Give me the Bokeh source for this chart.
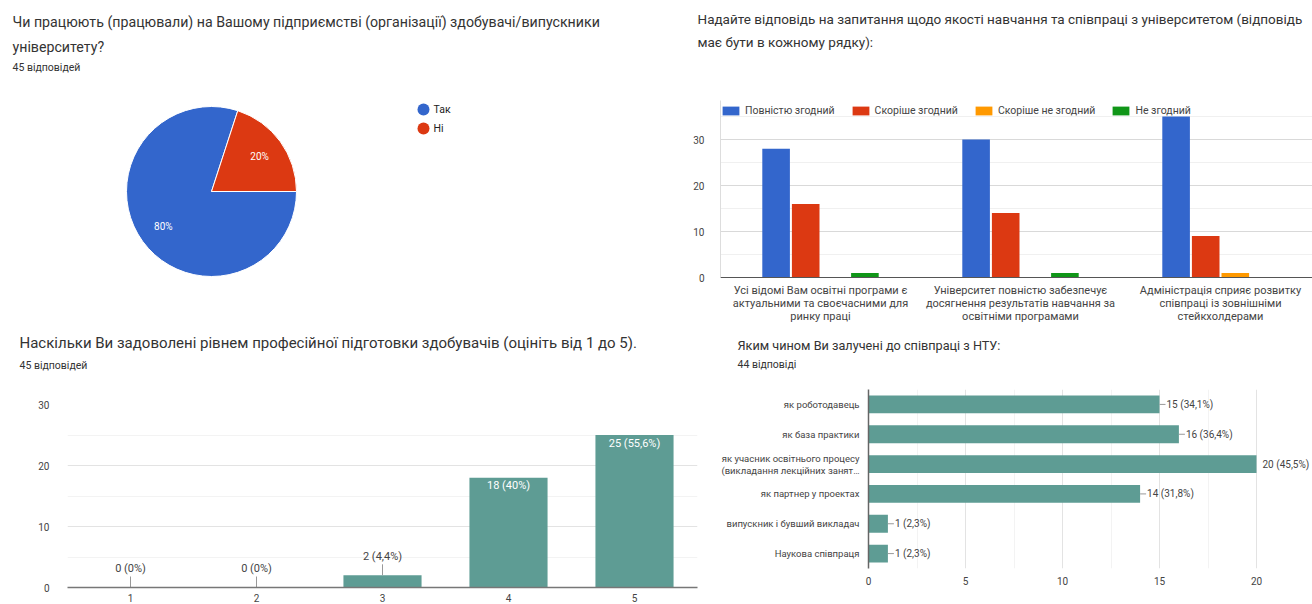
import numpy as np
from bokeh.plotting import figure
from bokeh.layouts import column, row
from bokeh.models import Range1d, FixedTicker, Legend, LegendItem
from bokeh.core.properties import value
from bokeh.embed import file_html
from bokeh.resources import INLINE

FONT = "Roboto"
INK = "#333333"
AXIS_INK = "#444444"
TEAL = "#5e9c94"

# ---------------- data: panel 1 (pie) ----------------
q1_title = ["Чи працюють (працювали) на Вашому підприємстві (організації) здобувачі/випускники",
            "університету?"]
q1_sub = "45 відповідей"
q1_labels = ["Так", "Ні"]
q1_values = [80, 20]
q1_colors = ["#3366cc", "#dc3912"]

# ---------------- data: panel 2 (grouped columns) ----------------
q2_title = ["Надайте відповідь на запитання щодо якості навчання та співпраці з університетом (відповідь",
            "має бути в кожному рядку):"]
q2_categories = ["Усі відомі Вам освітні програми є\nактуальними та своєчасними для\nринку праці",
                 "Університет повністю забезпечує\nдосягнення результатів навчання за\nосвітніми програмами",
                 "Адміністрація сприяє розвитку\nспівпраці із зовнішніми\nстейкхолдерами"]
q2_series = ["Повністю згодний", "Скоріше згодний", "Скоріше не згодний", "Не згодний"]
q2_full = [28, 30, 35]
q2_rather = [16, 14, 9]
q2_rather_not = [0, 0, 1]
q2_not = [1, 1, 0]
q2_colors = ["#3366cc", "#dc3912", "#ff9900", "#109618"]
q2_ticks = [0, 10, 20, 30]
q2_minor = [5, 15, 25, 35]

# ---------------- data: panel 3 (rating columns) ----------------
q3_title = "Наскільки Ви задоволені рівнем професійної підготовки здобувачів (оцініть від 1 до 5)."
q3_sub = "45 відповідей"
q3_scores = [1, 2, 3, 4, 5]
q3_counts = [0, 0, 2, 18, 25]
q3_labels = ["0 (0%)", "0 (0%)", "2 (4,4%)", "18 (40%)", "25 (55,6%)"]
q3_ticks = [0, 10, 20, 30]
q3_minor = [5, 15, 25]

# ---------------- data: panel 4 (horizontal bars) ----------------
q4_title = "Яким чином Ви залучені до співпраці з НТУ:"
q4_sub = "44 відповіді"
q4_categories = ["як роботодавець", "як база практики",
                 "як учасник освітнього процесу\n(викладання лекційних занят…",
                 "як партнер у проектах", "випускник і бувший викладач", "Наукова співпраця"]
q4_counts = [15, 16, 20, 14, 1, 1]
q4_labels = ["15 (34,1%)", "16 (36,4%)", "20 (45,5%)", "14 (31,8%)", "1 (2,3%)", "1 (2,3%)"]
q4_ticks = [0, 5, 10, 15, 20]
q4_minor = [2.5, 7.5, 12.5, 17.5]


def canvas(w, h):
    p = figure(width=w, height=h, x_range=Range1d(0, w), y_range=Range1d(0, h),
               x_axis_location=None, y_axis_location=None, min_border=0,
               output_backend="svg", toolbar_location=None)
    p.grid.grid_line_color = None
    p.outline_line_color = None
    return p


def base_fig(w, h, xr, yr, left, right, top, bottom):
    p = figure(width=w, height=h, x_range=xr, y_range=yr,
               min_border_left=left, min_border_right=right,
               min_border_top=top, min_border_bottom=bottom,
               output_backend="svg", toolbar_location=None)
    p.outline_line_color = None
    return p


def txt(p, x, y, s, size, color=INK, align="left", baseline="middle"):
    p.text(x=[x], y=[y], text=[s], text_font=value(FONT), text_font_size=f"{size}px",
           text_color=color, text_align=align, text_baseline=baseline)


def style_axis(ax, size="10px"):
    ax.major_tick_line_color = None
    ax.minor_tick_line_color = None
    ax.major_label_text_font = FONT
    ax.major_label_text_font_size = size
    ax.major_label_text_color = AXIS_INK
    ax.major_label_text_line_height = 1.0


# ================= panel 1 (page x 0..690, y 0..325) =================
W1, H1 = 690, 325
def P1(xp, yp):
    return xp, H1 - yp

p1 = canvas(W1, H1)
for i, line in enumerate(q1_title):
    txt(p1, *P1(12, 21 + 25 * i), line, 14.2)
txt(p1, *P1(12, 67), q1_sub, 10.5)

pcx, pcy = P1(211, 191)
PR = 85
frac = np.array(q1_values, dtype=float) / sum(q1_values)
cum = np.concatenate([[0.0], np.cumsum(frac)])
starts = -2 * np.pi * cum[:-1]
ends = -2 * np.pi * cum[1:]
p1.wedge(x=pcx, y=pcy, radius=PR, start_angle=starts, end_angle=ends, direction="clock",
         fill_color=q1_colors, line_color="white", line_width=1)
mids = (starts + ends) / 2
p1.text(x=pcx + 0.7 * PR * np.cos(mids), y=pcy + 0.7 * PR * np.sin(mids),
        text=[f"{v}%" for v in q1_values], text_font=value(FONT), text_font_size="10px",
        text_color="white", text_align="center", text_baseline="middle")
for i, (lab, col) in enumerate(zip(q1_labels, q1_colors)):
    lx, ly = P1(423, 109 + 19 * i)
    p1.scatter(x=[lx], y=[ly], size=12, fill_color=col, line_color=None)
    txt(p1, *P1(433, 109 + 19 * i), lab, 10.5, "#222222")

# ================= panel 2 (page x 690..1312, y 0..325) =================
W2 = 622
H2h = 100
def P2h(xp, yp):
    return xp - 690, H2h - yp

h2 = canvas(W2, H2h)
for i, line in enumerate(q2_title):
    txt(h2, *P2h(697, 18 + 23 * i), line, 13.5)

BAND = 200.0
Y2MAX = 38.48
p2 = base_fig(W2, 225, Range1d(0, (W2 - 30) / BAND), Range1d(0, Y2MAX), 30, 0, 0, 46)
BW = 0.148
offs = (np.arange(4) - 1.5) * BW
series_vals = [q2_full, q2_rather, q2_rather_not, q2_not]
rends = []
for k in range(4):
    r = p2.vbar(x=np.arange(len(q2_categories)) + 0.5 + offs[k], top=series_vals[k], width=BW - 0.01,
                fill_color=q2_colors[k], line_color=None)
    rends.append(r)
leg = Legend(items=[LegendItem(label=s, renderers=[r]) for s, r in zip(q2_series, rends)],
             orientation="horizontal", location="top_left", margin=0, padding=0, spacing=15,
             label_standoff=4, glyph_width=21, glyph_height=11, label_height=20,
             label_text_font=FONT, label_text_font_size="10.5px", label_text_color=AXIS_INK,
             background_fill_alpha=0, border_line_color=None)
p2.add_layout(leg)
p2.yaxis.ticker = FixedTicker(ticks=q2_ticks, minor_ticks=q2_minor)
style_axis(p2.yaxis[0])
p2.yaxis.axis_line_color = "#dddddd"
p2.yaxis.major_label_standoff = 10
p2.ygrid.grid_line_color = "#d9d9d9"
p2.ygrid.minor_grid_line_color = "#f0f0f0"
p2.xgrid.grid_line_color = None
p2.xaxis.ticker = FixedTicker(ticks=[i + 0.5 for i in range(len(q2_categories))])
p2.xaxis.major_label_overrides = {i + 0.5: c for i, c in enumerate(q2_categories)}
style_axis(p2.xaxis[0], "11px")
p2.xaxis.axis_line_color = "#555555"
p2.xaxis.major_label_standoff = 0

# ================= panel 3 (page x 0..700, y 325..604) =================
W3 = 700
H3h = 67
def P3h(xp, yp):
    return xp, H3h - (yp - 325)

h3 = canvas(W3, H3h)
txt(h3, *P3h(19, 342), q3_title, 15)
txt(h3, *P3h(19, 365), q3_sub, 10.5)

p3 = base_fig(W3, 212, Range1d(0.5, 5.5), Range1d(0, 30), 67, 3, 12, 16)
p3.vbar(x=q3_scores, top=q3_counts, width=0.62, fill_color=TEAL, line_color=None)
inside = [c >= 5 for c in q3_counts]
xs_in = [x for x, f in zip(q3_scores, inside) if f]
ys_in = [c for c, f in zip(q3_counts, inside) if f]
lb_in = [l for l, f in zip(q3_labels, inside) if f]
xs_out = [x for x, f in zip(q3_scores, inside) if not f]
ys_out = [c for c, f in zip(q3_counts, inside) if not f]
lb_out = [l for l, f in zip(q3_labels, inside) if not f]
p3.text(x=xs_in, y=ys_in, text=lb_in, y_offset=8, text_font=value(FONT), text_font_size="11px",
        text_color="white", text_align="center", text_baseline="middle")
p3.ray(x=xs_out, y=ys_out, length=11, length_units="screen", angle=np.pi / 2,
       line_color="#999999", line_width=1)
p3.text(x=xs_out, y=ys_out, text=lb_out, y_offset=-19, text_font=value(FONT), text_font_size="11px",
        text_color=AXIS_INK, text_align="center", text_baseline="middle")
p3.yaxis.ticker = FixedTicker(ticks=q3_ticks, minor_ticks=q3_minor)
style_axis(p3.yaxis[0])
p3.yaxis.axis_line_color = None
p3.yaxis.major_label_standoff = 12
p3.ygrid.grid_line_color = "#e3e3e3"
p3.ygrid.minor_grid_line_color = "#f3f3f3"
p3.xgrid.grid_line_color = None
p3.xaxis.ticker = FixedTicker(ticks=q3_scores)
style_axis(p3.xaxis[0])
p3.xaxis.axis_line_color = "#777777"
p3.xaxis.axis_line_width = 1.5
p3.xaxis.major_label_standoff = 0

# ================= panel 4 (page x 700..1312, y 325..604) =================
W4 = 612
H4h = 60
def P4h(xp, yp):
    return xp - 700, H4h - (yp - 325)

h4 = canvas(W4, H4h)
txt(h4, *P4h(737, 345), q4_title, 12.7)
txt(h4, *P4h(737, 364), q4_sub, 10.5)

UNIT = 19.4
n4 = len(q4_categories)
idx = list(range(n4))
p4 = base_fig(W4, 219, Range1d(0, (W4 - 168) / UNIT), Range1d(n4 - 0.5, -0.5), 168, 0, 4, 36)
p4.hbar(y=idx, left=0, right=q4_counts, height=0.6, fill_color=TEAL, line_color=None)
mx = max(q4_counts)
lead = [c < mx for c in q4_counts]
p4.ray(x=[c for c, f in zip(q4_counts, lead) if f], y=[i for i, f in zip(idx, lead) if f],
       length=6, length_units="screen", angle=0, line_color="#999999", line_width=1)
p4.text(x=q4_counts, y=idx, text=q4_labels, x_offset=[7 if f else 6 for f in lead],
        text_font=value(FONT), text_font_size="10px", text_color=AXIS_INK,
        text_align="left", text_baseline="middle")
p4.yaxis.ticker = FixedTicker(ticks=idx)
p4.yaxis.major_label_overrides = {i: c for i, c in enumerate(q4_categories)}
style_axis(p4.yaxis[0], "9.5px")
p4.yaxis.major_label_text_line_height = 1.1
p4.yaxis.axis_line_color = "#666666"
p4.yaxis.axis_line_width = 1.5
p4.yaxis.major_label_standoff = 3
p4.ygrid.grid_line_color = None
p4.xaxis.ticker = FixedTicker(ticks=q4_ticks, minor_ticks=q4_minor)
style_axis(p4.xaxis[0])
p4.xaxis.axis_line_color = None
p4.xaxis.major_label_standoff = 2
p4.xgrid.grid_line_color = "#e3e3e3"
p4.xgrid.minor_grid_line_color = "#f3f3f3"
p4.xgrid.bounds = (0, 20)

layout = column(
    row(column(p1), column(column(h2), column(p2))),
    row(column(column(h3), column(p3)), column(column(h4), column(p4))),
)
open("out.html", "w").write(file_html(layout, INLINE))
